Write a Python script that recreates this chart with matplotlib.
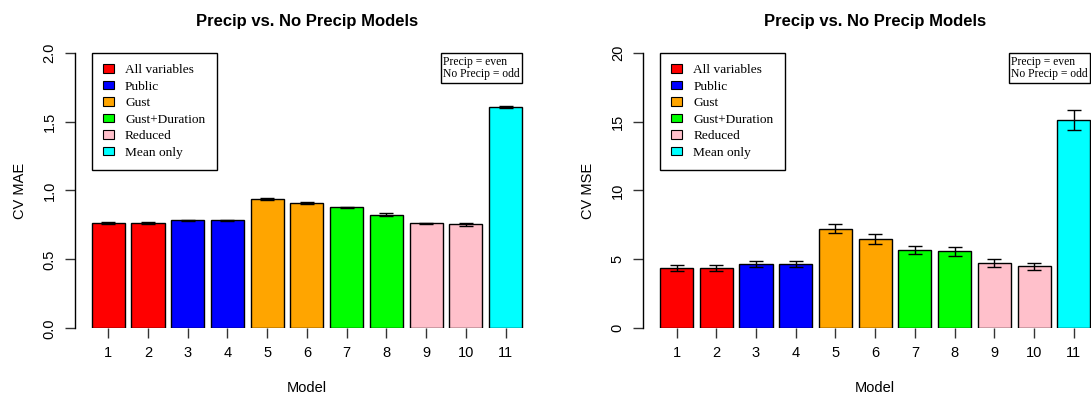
import matplotlib
matplotlib.use("Agg")
import matplotlib.pyplot as plt
from matplotlib.patches import Patch

plt.rcParams['font.family'] = ['Liberation Sans', 'DejaVu Sans']

# model index 1..11 (odd = no precip, even = precip)
models = list(range(1, 12))
groups = ['All variables', 'Public', 'Gust', 'Gust+Duration', 'Reduced', 'Mean only']
group_colours = ['#ff0000', '#0000ff', '#ffa500', '#00ff00', '#ffc0cb', '#00ffff']
model_group = [0, 0, 1, 1, 2, 2, 3, 3, 4, 4, 5]

mae = [0.765, 0.765, 0.783, 0.783, 0.940, 0.907, 0.878, 0.824, 0.762, 0.755, 1.604]
mae_err = [0.005, 0.005, 0.004, 0.004, 0.006, 0.008, 0.005, 0.010, 0.005, 0.010, 0.006]

mse = [4.38, 4.38, 4.64, 4.64, 7.23, 6.46, 5.71, 5.59, 4.72, 4.50, 15.12]
mse_err = [0.22, 0.22, 0.22, 0.22, 0.33, 0.35, 0.29, 0.33, 0.29, 0.27, 0.72]

# barplot-style positions: width 1, space 0.2
xpos = [0.7 + 1.2 * i for i in range(len(models))]
bar_cols = [group_colours[g] for g in model_group]


def draw_panel(ax, vals, errs, ymax, yticks, yfmt, ylabel):
    ax.bar(xpos, vals, width=1.0, color=bar_cols, edgecolor='black', lw=1.0, zorder=2)
    ax.errorbar(xpos, vals, yerr=errs, fmt='none', ecolor='black', elinewidth=1.0,
                capsize=5.3, capthick=1.0, zorder=3)
    ax.set_xlim(-0.32, 13.72)
    ax.set_ylim(0, ymax)
    ax.set_xticks(xpos)
    ax.set_xticklabels([str(m) for m in models])
    ax.set_yticks(yticks)
    ax.set_yticklabels([yfmt.format(t) for t in yticks], rotation=90, va='center')
    for s in ['top', 'right', 'bottom']:
        ax.spines[s].set_visible(False)
    ax.spines['left'].set_linewidth(1.0)
    ax.tick_params(axis='both', length=7, width=1.0, labelsize=10.5, color='#333333')
    ax.tick_params(axis='x', pad=6)
    ax.tick_params(axis='y', pad=6)
    ax.set_xlabel('Model', fontsize=10.5, labelpad=15)
    ax.set_ylabel(ylabel, fontsize=10.5, labelpad=11)
    ax.set_title('Precip vs. No Precip Models', fontsize=12, fontweight='bold', pad=19)

    handles = [Patch(facecolor=c, edgecolor='black', lw=0.8) for c in group_colours]
    leg = ax.legend(handles, groups, loc='upper left', bbox_to_anchor=(0.2, ymax),
                    bbox_transform=ax.transData, borderaxespad=0, frameon=True,
                    fancybox=False, edgecolor='black', framealpha=1,
                    prop={'family': 'Liberation Serif', 'size': 9.6},
                    handlelength=0.8, handleheight=0.6, handletextpad=0.85,
                    labelspacing=0.34, borderpad=0.85)
    leg.get_frame().set_linewidth(1.0)

    ax.annotate('Precip = even\nNo Precip = odd', xy=(10.74, ymax), xycoords='data',
                xytext=(1.6, -2.2), textcoords='offset points', ha='left', va='top',
                family='Liberation Serif', fontsize=8.4, linespacing=1.05,
                bbox=dict(boxstyle='square,pad=0.2', fc='white', ec='black', lw=1.0),
                annotation_clip=False)


fig = plt.figure(figsize=(10.91, 3.95), dpi=100)
ax_mae = fig.add_axes([0.0683, 0.1689, 0.4260, 0.6977])
ax_mse = fig.add_axes([0.5892, 0.1689, 0.4260, 0.6977])

draw_panel(ax_mae, mae, mae_err, 2.0, [0.0, 0.5, 1.0, 1.5, 2.0], '{:.1f}', 'CV MAE')
draw_panel(ax_mse, mse, mse_err, 20, [0, 5, 10, 15, 20], '{:d}', 'CV MSE')

fig.savefig('out.png', dpi=100)
